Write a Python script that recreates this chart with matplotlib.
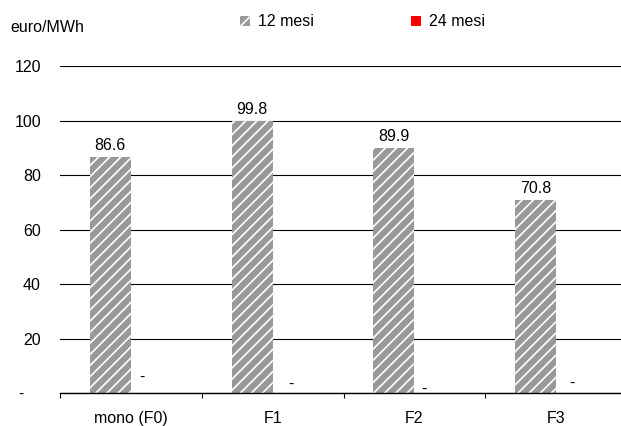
import matplotlib
matplotlib.use('Agg')
import matplotlib.pyplot as plt
import numpy as np
from matplotlib.transforms import ScaledTranslation
from matplotlib.patches import Patch

# ---------------- data ----------------
categories = ['mono (F0)', 'F1', 'F2', 'F3']
series_names = ['12 mesi', '24 mesi']
values_12 = [86.6, 99.8, 89.9, 70.8]
values_24 = [0.0, 0.0, 0.0, 0.0]
ytick_values = [0, 20, 40, 60, 80, 100, 120]
ytick_labels = ['-', '20', '40', '60', '80', '100', '120']
unit_label = 'euro/MWh'

# ---------------- style ----------------
W, H, DPI = 621, 426, 100
FS = 11.5
GREY = '#999999'
RED = '#FF0000'
# pixel offsets of the "-" labels of the 24 mesi series (as placed in the reference)
dash_dx = [-9, -2, -11, -5]
dash_dy = [16, 9, 4, 10]


def fmt(v):
    return '-' if v == 0 else f'{v:.1f}'


plt.rcParams['font.family'] = ['Liberation Sans', 'DejaVu Sans']
plt.rcParams['hatch.linewidth'] = 1.2

fig = plt.figure(figsize=(W / DPI, H / DPI), dpi=DPI)
ax = fig.add_axes([60 / W, (H - 393.3) / H, 567 / W, 327 / H])

x = np.arange(len(categories))
bw = 0.29
ax.bar(x - bw / 2, values_12, bw, color=GREY, edgecolor='white',
       linewidth=0, hatch='///', zorder=3)
ax.bar(x + bw / 2, values_24, bw, color=RED, linewidth=0, zorder=3)

ax.set_xlim(-0.5, len(categories) - 0.5)
ax.set_ylim(0, 120)

# grid / spines
ax.set_yticks(ytick_values)
ax.set_yticklabels(ytick_labels, fontsize=FS)
ax.yaxis.grid(True, color='black', linewidth=0.8, zorder=0)
ax.set_axisbelow(True)
for s in ['top', 'right', 'left']:
    ax.spines[s].set_visible(False)
ax.spines['bottom'].set_color('black')
ax.spines['bottom'].set_linewidth(1.0)
ax.spines['bottom'].set_zorder(4)
ax.tick_params(axis='y', length=0, pad=13.7)

# x ticks: boundaries as major ticks, category names at centres
ax.set_xticks(np.arange(len(categories) + 1) - 0.5)
ax.set_xticklabels([])
ax.set_xticks(x, minor=True)
ax.set_xticklabels(categories, minor=True, fontsize=FS)
ax.tick_params(axis='x', which='major', length=3.6, width=0.8, direction='out', color='black')
ax.tick_params(axis='x', which='minor', length=0, pad=12.8)

# shift the "-" zero label to the left as in the reference
lab0 = ax.yaxis.get_major_ticks()[0].label1
lab0.set_transform(lab0.get_transform() + ScaledTranslation(-17 / DPI, 0, fig.dpi_scale_trans))

# value labels
for xi, v in zip(x, values_12):
    ax.annotate(fmt(v), (xi - bw / 2, v), xytext=(0, 12 * 72 / DPI),
                textcoords='offset points', ha='center', va='center', fontsize=FS)
for xi, v, dx, dy in zip(x, values_24, dash_dx, dash_dy):
    ax.annotate(fmt(v), (xi + bw / 2, v), xytext=(dx * 72 / DPI, dy * 72 / DPI),
                textcoords='offset points', ha='center', va='center', fontsize=FS)

# unit label
fig.text(10 / W, 1 - 28 / H, unit_label, ha='left', va='center', fontsize=FS)

# legend
handles = [Patch(facecolor=GREY, edgecolor='white', linewidth=0, hatch='///'),
           Patch(facecolor=RED, linewidth=0)]
fig.legend(handles, series_names, loc='center left',
           bbox_to_anchor=(240 / W, 1 - 22 / H), ncol=2, frameon=False,
           fontsize=FS, handlelength=0.63, handleheight=0.63,
           handletextpad=0.5, columnspacing=6.1, borderpad=0, borderaxespad=0)

fig.savefig('out.png', dpi=DPI)
